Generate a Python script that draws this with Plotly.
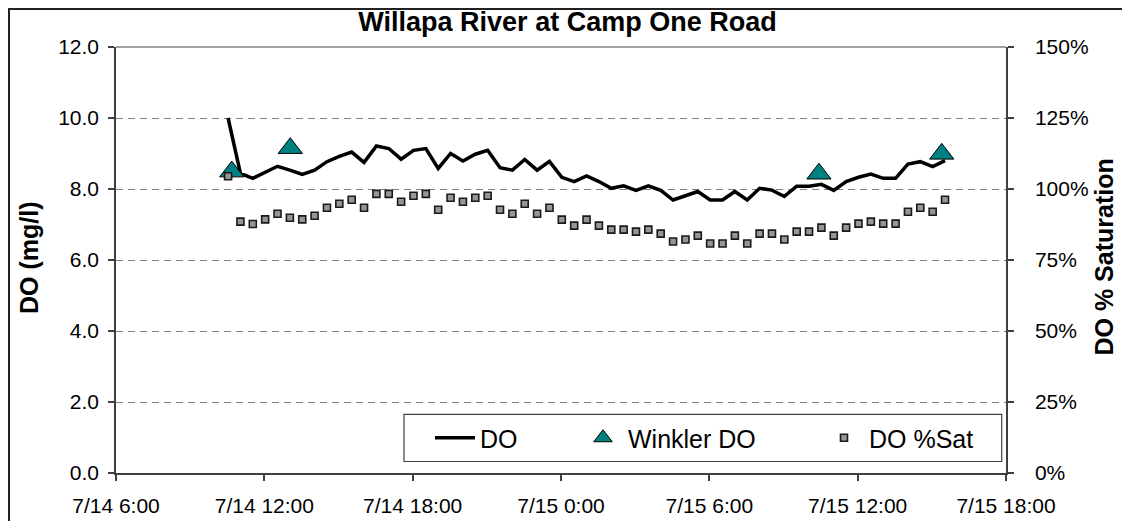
import pandas as pd
import plotly.graph_objects as go

# ---- data ----
start_time = "2004-07-14 10:32"
interval = "30min"
do_mgl = [10.0, 8.44, 8.30, 8.46, 8.64, 8.53, 8.41, 8.53, 8.77, 8.92,
          9.04, 8.75, 9.21, 9.14, 8.84, 9.09, 9.14, 8.58, 9.00, 8.79,
          8.98, 9.09, 8.60, 8.53, 8.83, 8.53, 8.78, 8.33, 8.21, 8.37,
          8.21, 8.02, 8.09, 7.96, 8.09, 7.96, 7.69, 7.81, 7.93, 7.69,
          7.69, 7.93, 7.69, 8.02, 7.97, 7.79, 8.08, 8.08, 8.13, 7.96,
          8.21, 8.33, 8.42, 8.30, 8.30, 8.70, 8.77, 8.63, 8.80]
do_sat = [104.5, 88.5, 87.7, 89.3, 91.3, 89.9, 89.3, 90.6, 93.4, 94.8,
          96.2, 93.4, 98.3, 98.3, 95.5, 97.6, 98.3, 92.7, 96.9, 95.5,
          96.9, 97.6, 92.7, 91.3, 94.8, 91.3, 93.4, 89.2, 87.1, 89.2,
          87.1, 85.7, 85.7, 85.0, 85.7, 84.3, 81.5, 82.2, 83.6, 80.8,
          80.8, 83.6, 80.8, 84.3, 84.3, 82.2, 85.0, 85.0, 86.4, 83.6,
          86.4, 87.8, 88.5, 87.8, 87.8, 92.0, 93.4, 92.0, 96.2]
winkler_times = ["2004-07-14 10:41", "2004-07-14 13:03",
                 "2004-07-15 10:26", "2004-07-15 15:24"]
winkler_do = [8.49, 9.15, 8.43, 8.99]

x_tickvals = ["2004-07-14 06:00", "2004-07-14 12:00", "2004-07-14 18:00",
              "2004-07-15 00:00", "2004-07-15 06:00", "2004-07-15 12:00",
              "2004-07-15 18:00"]
x_ticktext = ["7/14 6:00", "7/14 12:00", "7/14 18:00", "7/15 0:00",
              "7/15 6:00", "7/15 12:00", "7/15 18:00"]
y_tickvals = [0, 2, 4, 6, 8, 10, 12]
y_ticktext = ["0.0", "2.0", "4.0", "6.0", "8.0", "10.0", "12.0"]
y2_tickvals = [0, 25, 50, 75, 100, 125, 150]
y2_ticktext = ["0%", "25%", "50%", "75%", "100%", "125%", "150%"]

times = pd.date_range(start=start_time, periods=len(do_mgl), freq=interval)

FONT = "Liberation Sans, Arial, sans-serif"
# page has an 8px body margin; figure sized so the page matches 1130x529
W, H = 1114, 513
L, R, T, B = 108, 116, 39, 48
PAGE_OFF = 8
PW, PH = W - L - R, H - T - B
PLOT_LEFT_PAGE = L + PAGE_OFF
PLOT_BOTTOM_PAGE = H - B + PAGE_OFF


def px(xp):  # page x pixel -> paper coordinate
    return (xp - PLOT_LEFT_PAGE) / PW


def py(yp):  # page y pixel -> paper coordinate
    return (PLOT_BOTTOM_PAGE - yp) / PH


fig = go.Figure()

fig.add_trace(go.Scatter(
    x=times, y=do_mgl, mode="lines", name="DO",
    line=dict(color="black", width=3.5), legend="legend"))

fig.add_trace(go.Scatter(
    x=winkler_times, y=winkler_do, mode="markers", name="Winkler DO",
    marker=dict(symbol="triangle-up", size=21, color="#008080",
                line=dict(color="black", width=1)), legend="legend2"))

fig.add_trace(go.Scatter(
    x=times, y=do_sat, mode="markers", name="DO %Sat", yaxis="y2",
    marker=dict(symbol="square", size=7, color="#969696",
                line=dict(color="#1a1a1a", width=1.6)), legend="legend3"))

leg_common = dict(bgcolor="rgba(0,0,0,0)", borderwidth=0,
                  font=dict(family=FONT, size=25, color="black"),
                  yanchor="middle", xanchor="left", orientation="h",
                  itemwidth=40)

fig.update_layout(
    width=W, height=H,
    margin=dict(l=L, r=R, t=T, b=B, pad=0, autoexpand=False),
    paper_bgcolor="white", plot_bgcolor="white",
    font=dict(family=FONT, color="black"),
    showlegend=True,
    title=dict(text="<b>Willapa River at Camp One Road</b>",
               font=dict(family=FONT, size=27, color="black"),
               x=px(567.5), xanchor="center",
               y=1 - (22 - PAGE_OFF) / H, yanchor="middle",
               xref="paper"),
    xaxis=dict(
        type="date", automargin=False,
        range=[x_tickvals[0], x_tickvals[-1]],
        tickmode="array", tickvals=x_tickvals, ticktext=x_ticktext,
        tickfont=dict(family=FONT, size=21, color="black"),
        ticks="outside", ticklen=6, tickcolor="#404040", tickwidth=1.5,
        ticklabelstandoff=7,
        showline=True, linecolor="#404040", linewidth=1.5,
        showgrid=False, zeroline=False),
    yaxis=dict(
        range=[0, 12], automargin=False,
        tickmode="array", tickvals=y_tickvals, ticktext=y_ticktext,
        tickfont=dict(family=FONT, size=21, color="black"),
        ticks="outside", ticklen=6, tickcolor="#404040", tickwidth=1.5,
        ticklabelstandoff=5,
        showline=True, linecolor="#404040", linewidth=1.5,
        showgrid=True, gridcolor="#808080", gridwidth=1,
        griddash="7px,5px", zeroline=False),
    yaxis2=dict(
        range=[0, 150], overlaying="y", side="right", automargin=False,
        tickmode="array", tickvals=y2_tickvals, ticktext=y2_ticktext,
        tickfont=dict(family=FONT, size=21, color="black"),
        ticks="outside", ticklen=6, tickcolor="#404040", tickwidth=1.5,
        ticklabelstandoff=17,
        showline=True, linecolor="#404040", linewidth=1.5,
        showgrid=False, zeroline=False),
    legend=dict(x=px(430), y=py(438), **leg_common),
    legend2=dict(x=px(578), y=py(438), **leg_common),
    legend3=dict(x=px(819), y=py(438), **leg_common),
)

# plot-area top edge (solid gray), legend box and chart border
fig.add_shape(type="line", xref="paper", yref="paper", x0=0, x1=1, y0=1, y1=1,
              line=dict(color="#808080", width=1.5), layer="above")
fig.add_shape(type="rect", xref="paper", yref="paper",
              x0=px(404), x1=px(1001.7), y0=py(461.5), y1=py(414.3),
              line=dict(color="#404040", width=1.2), fillcolor="white",
              layer="above")
fig.add_shape(type="rect", xref="paper", yref="paper",
              x0=px(9), x1=px(1145), y0=py(545), y1=py(9),
              line=dict(color="#222222", width=2), fillcolor="rgba(0,0,0,0)",
              layer="above")

# axis titles
fig.add_annotation(text="<b>DO (mg/l)</b>", xref="paper", yref="paper",
                   x=px(28.5), y=py(257.5), textangle=-90, showarrow=False,
                   font=dict(family=FONT, size=25, color="black"),
                   xanchor="center", yanchor="middle")
fig.add_annotation(text="<b>DO % Saturation</b>", xref="paper", yref="paper",
                   x=px(1103), y=py(257.5), textangle=-90, showarrow=False,
                   font=dict(family=FONT, size=25, color="black"),
                   xanchor="center", yanchor="middle")

fig.write_html("out.html")
